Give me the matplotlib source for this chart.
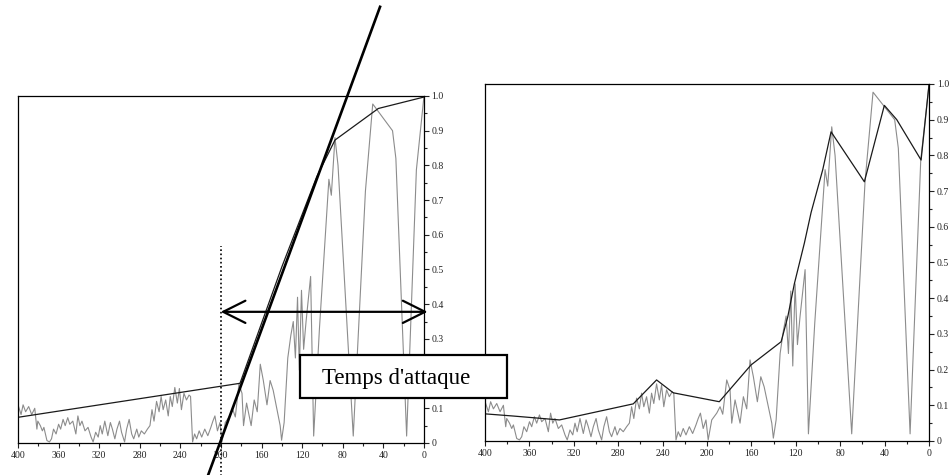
import matplotlib.pyplot as plt
from matplotlib.patches import Rectangle
from matplotlib.ticker import MultipleLocator

# grey signal (same in both panels), time axis runs from 400 down to 0
signal_t = [400, 397, 395, 392.5, 389.5, 386.5, 383.5, 381.4, 380.5, 378, 376, 374.5,
            371.5, 369, 367, 365, 362.5, 360, 358, 355.6, 353.5, 351, 349, 346, 343,
            341, 339, 337, 334, 331, 328, 326, 323.5, 321, 319, 317, 314.5, 311.5,
            309, 307, 304.6, 302.5, 300, 298, 295, 293, 290.5, 288, 286, 283, 281,
            278.5, 275.5, 272.5, 270, 268, 266, 263.5, 261, 259, 257, 254.5, 252,
            250, 248, 245.5, 243, 241, 239, 236.5, 234, 231.5, 230, 228, 226, 224,
            221.5, 219, 216, 213, 210, 208, 206, 203.5, 201, 199, 195.8, 191.3,
            188.3, 185.9, 182.3, 179.3, 177.8, 174.8, 170.3, 167.3, 164.3, 161.3,
            158.3, 154.7, 151.6, 148.6, 144.8, 141.7, 140.3, 137.8, 134.2, 131.2,
            128.8, 126.7, 124.6, 122.8, 120.7, 118.6, 116.2, 111.7, 108.7, 103,
            93.7, 91.3, 87.7, 84.7, 69.7, 57.7, 50.5, 41.1, 31, 27.7, 17.1, 7.5, 0]
signal_v = [0.11, 0.082, 0.11, 0.09, 0.105, 0.082, 0.10, 0.04, 0.063, 0.05, 0.035, 0.045,
            0.007, 0.003, 0.012, 0.04, 0.026, 0.054, 0.04, 0.068, 0.05, 0.073, 0.054,
            0.063, 0.026, 0.078, 0.05, 0.063, 0.035, 0.045, 0.017, 0.003, 0.031, 0.017,
            0.05, 0.026, 0.063, 0.021, 0.059, 0.04, 0.012, 0.04, 0.063, 0.031, 0.003,
            0.04, 0.068, 0.026, 0.012, 0.04, 0.017, 0.035, 0.026, 0.04, 0.05, 0.096,
            0.063, 0.12, 0.09, 0.134, 0.096, 0.124, 0.078, 0.134, 0.105, 0.16, 0.115,
            0.157, 0.096, 0.143, 0.124, 0.138, 0.134, 0.003, 0.026, 0.012, 0.035,
            0.017, 0.04, 0.021, 0.045, 0.063, 0.078, 0.035, 0.059, 0.003, 0.059,
            0.078, 0.096, 0.075, 0.171, 0.143, 0.05, 0.115, 0.05, 0.124, 0.09, 0.227,
            0.18, 0.11, 0.18, 0.152, 0.096, 0.05, 0.008, 0.059, 0.245, 0.31, 0.35,
            0.245, 0.42, 0.21, 0.44, 0.27, 0.35, 0.48, 0.02, 0.33, 0.76, 0.714, 0.88,
            0.80, 0.02, 0.726, 0.977, 0.94, 0.9, 0.82, 0.02, 0.787, 1.0]

# black envelopes
env_left_t = [400, 181.3, 140, 105.7, 87.7, 45, 0]
env_left_v = [0.074, 0.172, 0.508, 0.767, 0.873, 0.964, 0.997]
env_right_t = [400, 375, 333, 266.5, 245.5, 230.5, 189, 160.4, 133.3, 127.3, 121.4,
               112.3, 106.3, 95.8, 88.3, 58.3, 40.3, 29.1, 7.2, 0]
env_right_v = [0.076, 0.07, 0.059, 0.104, 0.171, 0.135, 0.11, 0.213, 0.278, 0.348,
               0.44, 0.555, 0.64, 0.76, 0.866, 0.726, 0.94, 0.9, 0.787, 1.0]

# annotations on the left panel
attack_line_t = [213, 43.3]
attack_line_v = [-0.095, 1.257]
onset_t = 200.3
onset_v = [-0.095, 0.569]
arrow_t = [200.3, -3.5]
arrow_v = 0.378
label = "Temps d'attaque"

x_ticks = [400, 360, 320, 280, 240, 200, 160, 120, 80, 40, 0]
y_ticks = [0, 0.1, 0.2, 0.3, 0.4, 0.5, 0.6, 0.7, 0.8, 0.9, 1.0]
y_labels = ['0', '0.1', '0.2', '0.3', '0.4', '0.5', '0.6', '0.7', '0.8', '0.9', '1.0']

fig = plt.figure(figsize=(9.53, 4.75), dpi=100)
ax1 = fig.add_axes([0.0189, 0.0674, 0.426, 0.7305])
ax2 = fig.add_axes([0.509, 0.0716, 0.4659, 0.7516])

for ax in (ax1, ax2):
    ax.plot(signal_t, signal_v, color='#8c8c8c', lw=0.8)
    ax.set_xlim(400, 0)
    ax.set_ylim(0, 1)
    ax.yaxis.tick_right()
    ax.set_xticks(x_ticks)
    ax.set_xticklabels([str(t) for t in x_ticks])
    ax.set_yticks(y_ticks)
    ax.set_yticklabels(y_labels)
    ax.xaxis.set_minor_locator(MultipleLocator(20))
    ax.yaxis.set_minor_locator(MultipleLocator(0.05))
    ax.tick_params(which='both', direction='out', length=3.5, width=0.8,
                   labelsize=7, colors='#222222', pad=2)
    ax.tick_params(which='minor', length=2.5)
    for lab in ax.get_xticklabels() + ax.get_yticklabels():
        lab.set_family('Liberation Serif')
    for sp in ax.spines.values():
        sp.set_linewidth(0.9)

# the label box covers the 0.2 label of the left panel
ax1.get_yticklabels()[2].set_visible(False)

ax1.plot(env_left_t, env_left_v, color='#1a1a1a', lw=0.9)
ax2.plot(env_right_t, env_right_v, color='#1a1a1a', lw=0.9)

# tangent line, onset marker and duration arrow
ax1.plot(attack_line_t, attack_line_v, color='black', lw=1.9, clip_on=False)
ax1.plot([onset_t, onset_t], onset_v, color='black', lw=1.2, ls=(0, (1, 1.5)),
         clip_on=False)
ax1.annotate('', xy=(arrow_t[1], arrow_v), xytext=(arrow_t[0], arrow_v),
             arrowprops=dict(arrowstyle='<->,head_length=1.6,head_width=0.8',
                             lw=1.6, color='black', shrinkA=0, shrinkB=0,
                             mutation_scale=10),
             annotation_clip=False)

# label box drawn over both panels
fig.patches.append(Rectangle((0.315, 0.162), 0.217, 0.091, transform=fig.transFigure,
                             facecolor='white', edgecolor='black', lw=1.6, zorder=10))
fig.text(0.4155, 0.203, label, ha='center', va='center', fontsize=16.5,
         family='Liberation Serif', zorder=11)

plt.savefig('out.png', dpi=100)
